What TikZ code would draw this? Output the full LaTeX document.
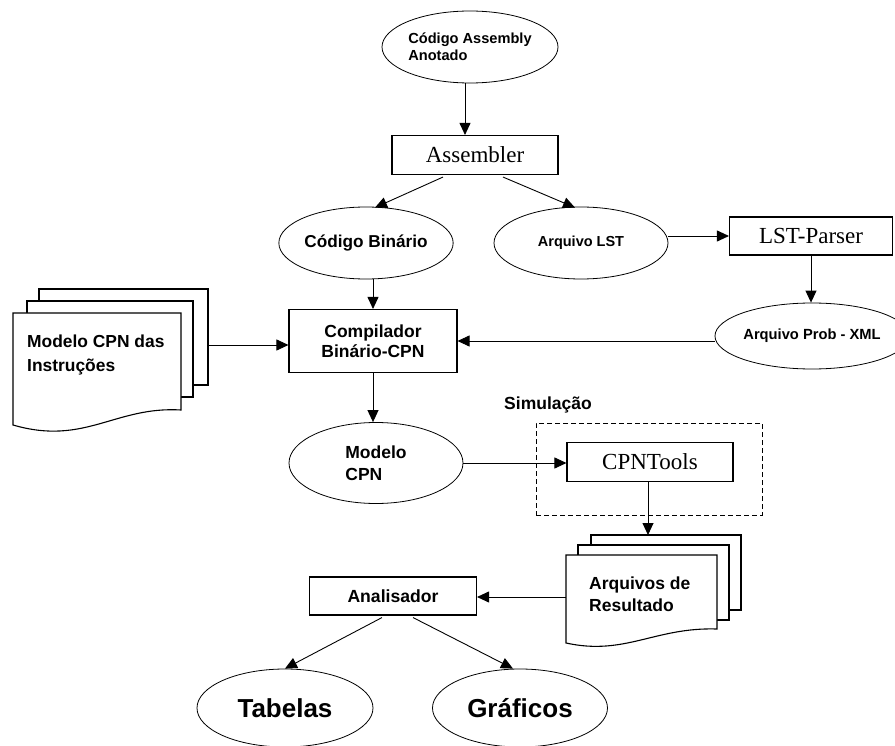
\documentclass[tikz,border=0pt]{standalone}
\usepackage{fontspec}
\setmainfont{Liberation Sans}
\newfontfamily\timesf{Liberation Serif}
\usetikzlibrary{shapes.geometric,arrows.meta,calc}
\newcommand\fsz[2]{\fontsize{#1}{#2}\selectfont}
\tikzset{
  ell/.style={ellipse, draw, line width=0.8pt, inner sep=0pt, align=left},
  box/.style={rectangle, draw, line width=1.1pt, inner sep=0pt, align=center},
  arr/.style={line width=0.9pt, -{Triangle[length=12pt,width=11pt]}},
  docsheet/.style={draw, fill=white, line width=1.1pt},
  lbl/.style={inner sep=0pt, align=left},
}
\begin{document}
\begin{tikzpicture}[x=1pt,y=-1pt]
\useasboundingbox (0,0) rectangle (895,746);
\fill[white] (0,0) rectangle (895,746);

% ellipses
\node[ell, minimum width=176, minimum height=72, font=\bfseries\fsz{14.6}{17}] (top) at (470,47) {Código Assembly\\Anotado};
\node[ell, minimum width=174, minimum height=72, font=\bfseries\fsz{17.2}{20}] (cb) at (366,243) {Código Binário};
\node[ell, minimum width=174, minimum height=72, font=\bfseries\fsz{14.5}{17}] (lst) at (581,243) {Arquivo LST};
\node[ell, minimum width=166, minimum height=66, font=\bfseries\fsz{14.7}{17}] (px) at (812,336) {Arquivo Prob - XML};
\node[ell, minimum width=174, minimum height=81, font=\bfseries\fsz{17.5}{22}] (mcpn) at (376,463) {Modelo\\CPN};
\node[ell, minimum width=176, minimum height=78, font=\bfseries\fsz{26}{30}] (tab) at (285,708) {Tabelas};
\node[ell, minimum width=175, minimum height=78, font=\bfseries\fsz{26}{30}] (gra) at (520,708) {Gráficos};

% boxes
\node[box, minimum width=166, minimum height=39, font=\timesf\fsz{23}{26}] (asm) at (475,155) {Assembler};
\node[box, minimum width=163, minimum height=38, font=\timesf\fsz{23}{26}] (lp) at (811,236) {LST-Parser};
\node[box, minimum width=168, minimum height=63, font=\bfseries\fsz{17.5}{20}] (comp) at (373,341) {Compilador\\Binário-CPN};
\node[box, minimum width=166, minimum height=39, font=\timesf\fsz{23}{26}] (cpnt) at (650,462) {CPNTools};
\node[box, minimum width=167, minimum height=38, font=\bfseries\fsz{17.6}{20}] (ana) at (393,596) {Analisador};

% simulation frame
\node[draw, dashed, dash pattern=on 5pt off 3pt, line width=1pt, minimum width=226, minimum height=92, inner sep=0pt] (sim) at (649,469) {};
\node[lbl, font=\bfseries\fsz{17.5}{20}] (simlbl) at (548,405) {Simulação};

% document stack 1
\draw[docsheet] (39,289) rectangle (208,385);
\draw[docsheet] (27,301) rectangle (193,397);
\draw[docsheet] (13,313) -- (181,313) -- (181,410) .. controls (115,406) and (85,446) .. (13,425) -- cycle;
\node[lbl, anchor=west, font=\bfseries\fsz{17.4}{24}] (mi) at (27,355) {Modelo CPN das\\Instruções};
\coordinate (mir) at (208,345);

% document stack 2
\draw[docsheet] (591,535) rectangle (741,610);
\draw[docsheet] (578,545) rectangle (729,620);
\draw[docsheet] (566,555) -- (717,555) -- (717,629) .. controls (655,627) and (625,656) .. (566,643) -- cycle;
\node[lbl, anchor=west, font=\bfseries\fsz{17.5}{22}] (ar) at (589,594) {Arquivos de\\Resultado};
\coordinate (artop) at (648,535);
\coordinate (arleft) at (566,597);

% connectors
\coordinate (ta) at ($(top.south)+(-5,0)$);
\draw[arr] (ta) -- (ta |- asm.north);
\draw[arr] ($(asm.south)+(-32,2)$) -- ($(cb.north)+(9,1)$);
\draw[arr] ($(asm.south)+(28,2)$) -- ($(lst.north)+(-6,1)$);
\draw[arr] (lst.east |- lp.west) -- (lp.west);
\draw[arr] (lp.south) -- (lp.south |- px.north);
\draw[arr] (px.west |- comp.east) -- (comp.east);
\draw[arr] (cb.south -| comp.north) -- (comp.north);
\draw[arr] (mir) -- (mir -| comp.west);
\draw[arr] (comp.south) -- (comp.south |- mcpn.north);
\draw[arr] (mcpn.east) -- (mcpn.east -| cpnt.west);
\draw[arr] (cpnt.south -| artop) -- (artop);
\draw[arr] (arleft) -- (arleft -| ana.east);
\draw[arr] ($(ana.south)+(-11,2)$) -- (tab.north);
\draw[arr] ($(ana.south)+(20,2)$) -- ($(gra.north)+(-7,0)$);
\end{tikzpicture}
\end{document}
